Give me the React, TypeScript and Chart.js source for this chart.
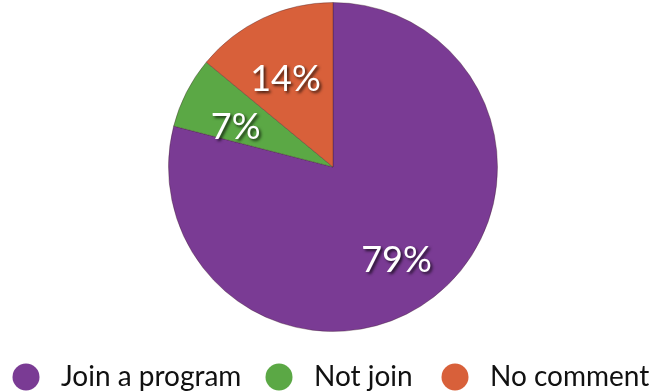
import React, { useEffect, useRef } from "react";
import { Chart, registerables } from "chart.js";

Chart.register(...registerables);

const categories = ["Join a program", "Not join", "No comment"];
const values = [79, 7, 14];
const valueLabels = ["79%", "7%", "14%"];
const colors = ["#7a3b94", "#5ba845", "#d8603a"];
const FONT = "Lato, 'DejaVu Sans', sans-serif";

const labelPlugin = {
  id: "sliceLabels",
  afterDatasetsDraw(chart: any) {
    const ctx = chart.ctx;
    const meta = chart.getDatasetMeta(0);
    meta.data.forEach((arc: any, i: number) => {
      const p = arc.getProps(["x", "y", "startAngle", "endAngle", "outerRadius"], true);
      const mid = (p.startAngle + p.endAngle) / 2;
      const r = p.outerRadius * 0.65;
      const x = p.x + Math.cos(mid) * r - 2;
      const y = p.y + Math.sin(mid) * r + 9;
      ctx.save();
      ctx.font = `36px ${FONT}`;
      ctx.textAlign = "center";
      ctx.textBaseline = "middle";
      ctx.shadowColor = "rgba(0,0,0,0.7)";
      ctx.shadowBlur = 3;
      ctx.shadowOffsetX = 2;
      ctx.shadowOffsetY = 2;
      ctx.fillStyle = "#ffffff";
      ctx.fillText(valueLabels[i], x, y);
      ctx.restore();
    });
  },
};

const legendPlugin = {
  id: "customLegend",
  afterDraw(chart: any) {
    const ctx = chart.ctx;
    const y = 377;
    const dotX = [26, 279, 455];
    ctx.save();
    ctx.font = `28px ${FONT}`;
    ctx.textBaseline = "middle";
    ctx.textAlign = "left";
    categories.forEach((c, i) => {
      ctx.beginPath();
      ctx.arc(dotX[i], y, 13.5, 0, Math.PI * 2);
      ctx.fillStyle = colors[i];
      ctx.fill();
      ctx.fillStyle = "#111111";
      ctx.fillText(c, dotX[i] + 35, y);
    });
    ctx.restore();
  },
};

export default function App() {
  const ref = useRef<HTMLCanvasElement | null>(null);
  useEffect(() => {
    if (!ref.current) return;
    const chart = new Chart(ref.current, {
      type: "pie",
      data: {
        labels: categories,
        datasets: [
          {
            data: values,
            backgroundColor: colors,
            borderColor: "rgba(60,30,40,0.35)",
            borderWidth: 1,
          },
        ],
      },
      options: {
        responsive: false,
        animation: false,
        layout: { padding: { top: 2, bottom: 59, left: 7, right: 0 } },
        plugins: {
          tooltip: { enabled: false },
          legend: { display: false },
        },
      },
      plugins: [labelPlugin, legendPlugin],
    });
    return () => chart.destroy();
  }, []);
  return (
    <div style={{ position: "fixed", left: 0, top: 0, width: 659, height: 391, background: "#fff" }}>
      <canvas ref={ref} width={659} height={391} />
    </div>
  );
}
